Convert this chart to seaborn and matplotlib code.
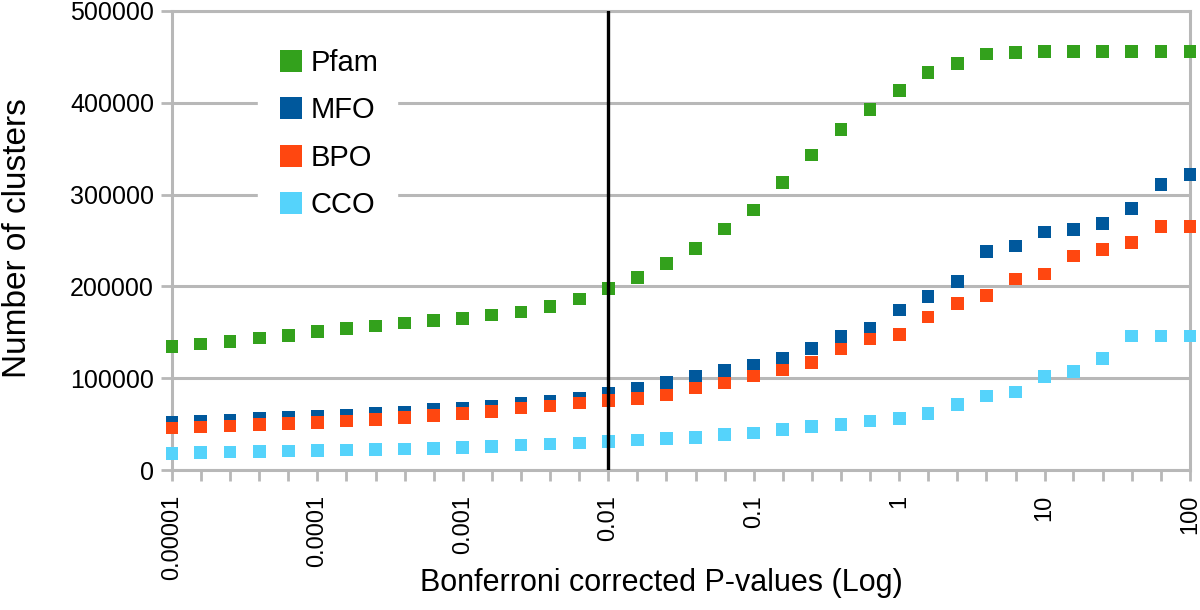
import pandas as pd
import seaborn as sns
import matplotlib.pyplot as plt

# P-value thresholds (5 per decade)
pvals = [1e-5, 1.58e-5, 2.51e-5, 3.98e-5, 6.31e-5,
         1e-4, 1.58e-4, 2.51e-4, 3.98e-4, 6.31e-4,
         1e-3, 1.58e-3, 2.51e-3, 3.98e-3, 6.31e-3,
         1e-2, 1.58e-2, 2.51e-2, 3.98e-2, 6.31e-2,
         1e-1, 1.58e-1, 2.51e-1, 3.98e-1, 6.31e-1,
         1, 1.58, 2.51, 3.98, 6.31,
         10, 15.8, 25.1, 39.8, 63.1, 100]

pfam = [134300, 137300, 139800, 143800, 146700, 150700, 153900, 156900, 160100, 162600,
        165200, 168800, 172100, 177900, 186300, 197500, 209500, 224700, 241500, 262500,
        283200, 313000, 343100, 370700, 392500, 413600, 433200, 443000, 453100, 454600,
        455700, 455700, 455700, 455700, 455700, 455700]
mfo = [51900, 52600, 54100, 55900, 57000, 58100, 59900, 61700, 63200, 65700,
       67500, 69700, 72200, 74400, 78100, 83500, 89000, 95100, 102400, 108200,
       114400, 121300, 132500, 145200, 153900, 174300, 188800, 205500, 238200, 244000,
       259300, 261800, 268700, 284700, 311200, 322100]
bpo = [45700, 46800, 47900, 49400, 50500, 51900, 53400, 55200, 57000, 59200,
       61700, 63900, 67500, 69700, 73000, 75400, 78100, 81700, 89300, 94800,
       102400, 108900, 117300, 131800, 142700, 147800, 166700, 181200, 189900, 208100,
       213500, 233100, 240000, 247600, 265400, 265400]
cco = [18200, 18900, 19600, 20300, 20700, 21100, 21800, 22100, 22900, 23600,
       24700, 25800, 27200, 28300, 29400, 30700, 32700, 34100, 35200, 38900,
       40300, 44300, 47200, 49400, 53400, 56300, 61400, 71500, 80600, 85000,
       102000, 107100, 121600, 146000, 146000, 146000]

series = ["Pfam", "MFO", "BPO", "CCO"]
colors = ["#33a11c", "#00589c", "#ff4710", "#55d3fb"]
major_ticks = [1e-5, 1e-4, 1e-3, 1e-2, 1e-1, 1, 10, 100]
major_labels = ["0.00001", "0.0001", "0.001", "0.01", "0.1", "1", "10", "100"]
y_ticks = [0, 100000, 200000, 300000, 400000, 500000]

df = pd.concat([
    pd.DataFrame({"p": pvals, "n": vals, "set": name})
    for name, vals in zip(series, [pfam, mfo, bpo, cco])
])

sns.set_style("white")
plt.rcParams["font.family"] = ["Liberation Sans", "DejaVu Sans"]
plt.rcParams["text.color"] = "black"
plt.rcParams["xtick.labelcolor"] = "black"
plt.rcParams["ytick.labelcolor"] = "black"
plt.rcParams["axes.labelcolor"] = "black"
grey = "#b8b8b8"

fig, ax = plt.subplots(figsize=(12, 6.1), dpi=100)
fig.subplots_adjust(left=0.1433, right=0.9917, top=0.982, bottom=0.2295)

sns.scatterplot(data=df, x="p", y="n", hue="set", hue_order=series,
                palette=colors, marker="s", s=85, linewidth=0,
                ax=ax, clip_on=False, zorder=3)

ax.set_xscale("log")
ax.set_xlim(1e-5, 100)
ax.set_ylim(0, 500000)

ax.set_xticks(major_ticks)
ax.set_xticklabels(major_labels, rotation=90, fontsize=17)
ax.set_xticks(pvals, minor=True)
ax.set_yticks(y_ticks)
ax.set_yticklabels([str(v) for v in y_ticks], fontsize=18)

ax.tick_params(axis="both", which="both", direction="out", color=grey,
               width=2, length=8, bottom=True, left=True)
ax.tick_params(axis="x", which="major", pad=10)
ax.tick_params(axis="y", pad=5)

ax.yaxis.grid(True, color=grey, linewidth=2.2, zorder=0)
ax.set_axisbelow(True)
for sp in ax.spines.values():
    sp.set_color(grey)
    sp.set_linewidth(2.2)

ax.axvline(0.01, color="black", linewidth=2.4, zorder=5)

ax.set_xlabel("Bonferroni corrected P-values (Log)", fontsize=22, va="center")
ax.xaxis.set_label_coords(0.481, -0.246)
ax.set_ylabel("Number of clusters", fontsize=24, va="center")
ax.yaxis.set_label_coords(-0.152, 0.505)

handles, labels = ax.get_legend_handles_labels()
leg = ax.legend(handles, labels, loc="upper left", bbox_to_anchor=(0.0845, 0.958),
                fontsize=21, markerscale=1.7, frameon=True, facecolor="white",
                edgecolor="white", framealpha=1, handlelength=0.95,
                handletextpad=0.2, labelspacing=0.66, borderpad=0.65,
                borderaxespad=0, fancybox=False)
leg.set_zorder(4)

plt.savefig("out.png")
